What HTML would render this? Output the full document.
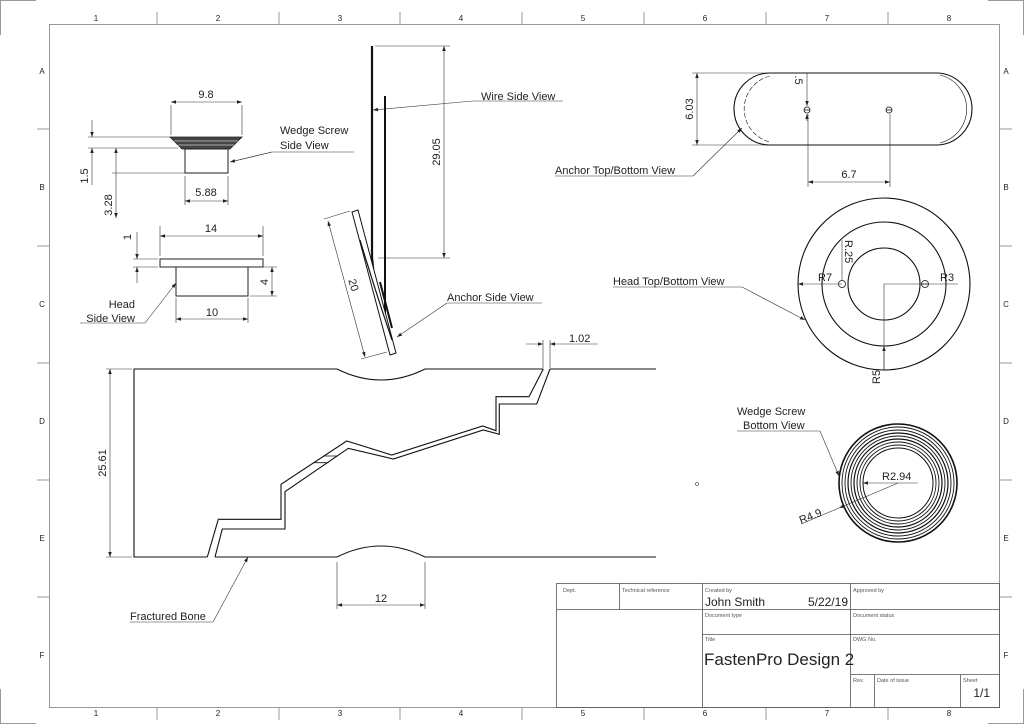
<!DOCTYPE html>
<html><head><meta charset="utf-8"><style>
html,body{margin:0;padding:0;background:#fff}
svg{display:block}
text{font-family:"Liberation Sans",sans-serif;fill:#222}
.t{font-size:11px}
.s{font-size:5.5px;fill:#555}
</style></head><body>
<svg width="1024" height="724" viewBox="0 0 1024 724" xmlns="http://www.w3.org/2000/svg">
<defs>
<marker id="a" viewBox="0 0 10 10" refX="10" refY="5" markerWidth="8" markerHeight="5" orient="auto-start-reverse" markerUnits="userSpaceOnUse"><path d="M0,1.5 L10,5 L0,8.5z" fill="#222"/></marker>
</defs>
<rect width="1024" height="724" fill="#fff"/>
<!-- frame -->
<g stroke="#999" stroke-width="1" fill="none">
<rect x="49.5" y="24.5" width="950" height="683"/>
<path d="M0.5,35 V0.5 H36 M988,0.5 H1023.5 V35 M0.5,689 V723.5 H36 M988,723.5 H1023.5 V689"/>
<path d="M157,12 V24 M279,12 V24 M400,12 V24 M522,12 V24 M644,12 V24 M766,12 V24 M888,12 V24
M157,708 V720 M279,708 V720 M400,708 V720 M522,708 V720 M644,708 V720 M766,708 V720 M888,708 V720
M37,129 H49 M37,246 H49 M37,363 H49 M37,480 H49 M37,597 H49
M1000,129 H1012 M1000,246 H1012 M1000,363 H1012 M1000,480 H1012 M1000,597 H1012"/>
</g>
<g font-size="8" fill="#444" text-anchor="middle">
<text x="96" y="21" font-size="8">1</text><text x="218" y="21" font-size="8">2</text><text x="340" y="21" font-size="8">3</text><text x="461" y="21" font-size="8">4</text><text x="583" y="21" font-size="8">5</text><text x="705" y="21" font-size="8">6</text><text x="827" y="21" font-size="8">7</text><text x="949" y="21" font-size="8">8</text>
<text x="96" y="716" font-size="8">1</text><text x="218" y="716" font-size="8">2</text><text x="340" y="716" font-size="8">3</text><text x="461" y="716" font-size="8">4</text><text x="583" y="716" font-size="8">5</text><text x="705" y="716" font-size="8">6</text><text x="827" y="716" font-size="8">7</text><text x="949" y="716" font-size="8">8</text>
<text x="42" y="74" font-size="8">A</text><text x="42" y="190" font-size="8">B</text><text x="42" y="307" font-size="8">C</text><text x="42" y="424" font-size="8">D</text><text x="42" y="541" font-size="8">E</text><text x="42" y="658" font-size="8">F</text>
<text x="1006" y="74" font-size="8">A</text><text x="1006" y="190" font-size="8">B</text><text x="1006" y="307" font-size="8">C</text><text x="1006" y="424" font-size="8">D</text><text x="1006" y="541" font-size="8">E</text><text x="1006" y="658" font-size="8">F</text>
</g>

<!-- thin dims -->
<g stroke="#333" stroke-width="0.6" fill="none">
<!-- wedge screw side dims -->
<path d="M171,105 V135 M242,105 V135"/>
<path d="M171,102 H242" marker-start="url(#a)" marker-end="url(#a)"/>
<path d="M88,137 H170 M88,148 H178 M112,173 H185"/>
<path d="M92,120 V137" marker-end="url(#a)"/><path d="M92,185 V148" marker-end="url(#a)"/>
<path d="M116,218 V148" marker-end="url(#a)" marker-start="url(#a)"/>
<path d="M185,176 V205 M228,176 V205"/>
<path d="M185,201 H228" marker-start="url(#a)" marker-end="url(#a)"/>
<path d="M272,152 H354 M272,152 L230,162" /><path d="M272,152 L230,162" marker-end="url(#a)"/>
<!-- head side dims -->
<path d="M160,226 V256 M263,226 V256"/>
<path d="M160,236 H263" marker-start="url(#a)" marker-end="url(#a)"/>
<path d="M133,259 H158 M133,267 H158"/>
<path d="M137,232 V259" marker-end="url(#a)"/><path d="M137,283 V267" marker-end="url(#a)"/>
<path d="M250,267 H277 M250,296 H277"/>
<path d="M272,267 V296" marker-start="url(#a)" marker-end="url(#a)"/>
<path d="M176,298 V323 M248,298 V323"/>
<path d="M176,319 H248" marker-start="url(#a)" marker-end="url(#a)"/>
<path d="M80,323 H145"/><path d="M145,323 L176,283" marker-end="url(#a)"/>
<!-- wire dims -->
<path d="M375,46 H450 M378,258 H450"/>
<path d="M444,46 V258" marker-start="url(#a)" marker-end="url(#a)"/>
<path d="M473,101 H563"/><path d="M473,101 L373,110" marker-end="url(#a)"/>
<!-- anchor side dims -->
<path d="M324,219 L350,211 M361,359 L387,352"/>
<path d="M328,221 L365,357" marker-start="url(#a)" marker-end="url(#a)"/>
<path d="M447,303 H542"/><path d="M447,303 L397,337" marker-end="url(#a)"/>
<!-- bone dims -->
<path d="M106,369 H132 M106,557 H132"/>
<path d="M110,369 V557" marker-start="url(#a)" marker-end="url(#a)"/>
<path d="M337,562 V609 M425,562 V609"/>
<path d="M337,605 H425" marker-start="url(#a)" marker-end="url(#a)"/>
<path d="M543,368 V340 M550,368 V340"/>
<path d="M526,344 H543" marker-end="url(#a)"/><path d="M598,344 H550" marker-end="url(#a)"/>
<path d="M130,622 H213"/><path d="M213,622 L248,557" marker-end="url(#a)"/>
<!-- anchor top dims -->
<path d="M692,73 H770 M692,145 H770"/>
<path d="M697,73 V145" marker-start="url(#a)" marker-end="url(#a)"/>
<path d="M807,73 V106" marker-end="url(#a)"/><path d="M807,121 V114" marker-end="url(#a)"/>
<path d="M808,114 V187 M890,114 V187"/>
<path d="M808,182 H890" marker-start="url(#a)" marker-end="url(#a)"/>
<path d="M555,176 H693"/><path d="M693,176 L742,128" marker-end="url(#a)"/>
<!-- head top dims -->
<path d="M842,284 H798" marker-end="url(#a)"/>
<path d="M842,240 V280"/>
<path d="M884,284 H958"/>
<path d="M884,284 V370"/><path d="M884,370 V346" marker-end="url(#a)"/>
<path d="M613,287 H742"/><path d="M742,287 L805,320" marker-end="url(#a)"/>
<!-- wedge bottom dims -->
<path d="M737,431 H820"/><path d="M820,431 L839,476" marker-end="url(#a)"/>
<path d="M918,483 H863" marker-end="url(#a)"/>
<path d="M898,483 L839,508" marker-end="url(#a)"/>
<path d="M839,508 L801,524"/>
</g>

<!-- wedge screw side -->
<polygon points="170,137 242,137 230,149 182,149" fill="#444" stroke="#222" stroke-width="0.8"/>
<path d="M174,141 H238 M178,145 H234" stroke="#ccc" stroke-width="0.8"/>
<rect x="185" y="149" width="43" height="24" fill="#fff" stroke="#222" stroke-width="1"/>
<!-- head side -->
<rect x="160" y="259" width="103" height="8" fill="#fff" stroke="#222" stroke-width="1"/>
<rect x="176" y="267" width="72" height="29" fill="#fff" stroke="#222" stroke-width="1"/>
<!-- wires -->
<path d="M372,46 V257 L376,300" stroke="#111" stroke-width="2.2" fill="none"/>
<path d="M385,96 V332" stroke="#111" stroke-width="2" fill="none"/>
<!-- anchor side -->
<polygon points="352,212 358,210 396,353 390,355" fill="#fff" stroke="#111" stroke-width="1"/>
<path d="M360,240 Q375,290 392,340" stroke="#111" stroke-width="1.2" fill="none"/>
<path d="M380,282 L392,328" stroke="#111" stroke-width="2" fill="none"/>

<!-- bone -->
<g stroke="#111" stroke-width="1.1" fill="none">
<path d="M543.3,369 H425 Q381,391 337,369 H134 V557 H207.3"/>
<path d="M550,369 H656 M215,557 H337 Q381,535 425,557 H656"/>
<polyline points="207.3,557 218.3,519.3 281,519.3 281,484.3 346.7,441 391.7,455 482.7,426 496,430.7 496,396.7 529,396.7 543.3,369"/>
<polyline points="215,557 222.3,529 285,529 285,491.7 348.3,448.3 393.3,459 483.3,430 499.3,434.3 499.3,404 536.7,404 550,369"/>
<path d="M324,456 H338 M314.5,462.7 H328.5" stroke-width="0.8"/>
</g>

<!-- anchor top -->
<g stroke="#111" fill="none">
<rect x="734" y="73" width="238" height="72" rx="36" stroke-width="1.1"/>
<path d="M770,76 A34,34 0 0 0 770,142" stroke-width="0.6" stroke-dasharray="5,2"/>
<path d="M940,75 A35,35 0 0 1 940,143" stroke-width="0.6"/>
<circle cx="807" cy="110" r="3" stroke-width="0.8"/><path d="M804,110 H810" stroke-width="0.8"/>
<circle cx="889" cy="110" r="3" stroke-width="0.8"/><path d="M886,110 H892" stroke-width="0.8"/>
</g>
<!-- head top -->
<g stroke="#111" stroke-width="1.1" fill="none">
<circle cx="884" cy="284" r="86"/><circle cx="884" cy="284" r="62"/><circle cx="884" cy="284" r="36"/>
<circle cx="842" cy="284" r="3.5" stroke-width="0.8"/><circle cx="925" cy="284" r="3.5" stroke-width="0.8"/>
<path d="M922,284 H928" stroke-width="0.8"/>
</g>
<!-- wedge bottom -->
<g stroke="#111" fill="none">
<circle cx="898" cy="483" r="59" stroke-width="1.6"/>
<circle cx="898" cy="483" r="56" stroke-width="0.9"/>
<circle cx="898" cy="483" r="53" stroke-width="0.9"/>
<circle cx="898" cy="483" r="50" stroke-width="1.2"/>
<circle cx="898" cy="483" r="47" stroke-width="0.9"/>
<circle cx="898" cy="483" r="44" stroke-width="1.2"/>
<circle cx="898" cy="483" r="41" stroke-width="0.9"/>
<circle cx="898" cy="483" r="38" stroke-width="0.9"/>
<circle cx="898" cy="483" r="35" stroke-width="1"/>
</g>
<circle cx="697" cy="484" r="1.5" fill="none" stroke="#333" stroke-width="0.6"/>

<!-- labels -->
<g class="t">
<text x="206" y="98" text-anchor="middle">9.8</text>
<text x="280" y="134">Wedge Screw</text><text x="280" y="149">Side View</text>
<text transform="translate(88,176) rotate(-90)" text-anchor="middle">1.5</text>
<text transform="translate(112,205) rotate(-90)" text-anchor="middle">3.28</text>
<text x="206" y="196" text-anchor="middle">5.88</text>
<text x="211" y="232" text-anchor="middle">14</text>
<text transform="translate(131,237) rotate(-90)" text-anchor="middle">1</text>
<text transform="translate(268,282) rotate(-90)" text-anchor="middle">4</text>
<text x="212" y="316" text-anchor="middle">10</text>
<text x="135" y="308" text-anchor="end">Head</text><text x="135" y="322" text-anchor="end">Side View</text>
<text transform="translate(440,152) rotate(-90)" text-anchor="middle">29.05</text>
<text x="481" y="100">Wire Side View</text>
<text transform="translate(350,286) rotate(74)" text-anchor="middle">20</text>
<text x="447" y="301">Anchor Side View</text>
<text x="569" y="342">1.02</text>
<text transform="translate(106,463) rotate(-90)" text-anchor="middle">25.61</text>
<text x="381" y="602" text-anchor="middle">12</text>
<text x="130" y="620">Fractured Bone</text>
<text transform="translate(693,109) rotate(-90)" text-anchor="middle">6.03</text>
<text transform="translate(795,80) rotate(90)" text-anchor="middle">.5</text>
<text x="849" y="178" text-anchor="middle">6.7</text>
<text x="555" y="174">Anchor Top/Bottom View</text>
<text x="613" y="285">Head Top/Bottom View</text>
<text x="818" y="281">R7</text>
<text x="940" y="281">R3</text>
<text transform="translate(845,240) rotate(90)">R.25</text>
<text transform="translate(880,384) rotate(-90)">R5</text>
<text x="737" y="415">Wedge Screw</text><text x="743" y="429">Bottom View</text>
<text x="882" y="480">R2.94</text>
<text transform="translate(801,524) rotate(-22)">R4.9</text>
</g>

<!-- title block -->
<g stroke="#555" stroke-width="0.8" fill="none">
<rect x="556.5" y="583.5" width="443" height="124"/>
<path d="M556.5,609.5 H999.5 M702.5,634.5 H999.5 M619.5,583.5 V609.5 M702.5,583.5 V707.5 M850.5,583.5 V707.5 M850.5,674.5 H999.5 M874.5,674.5 V707.5 M960.5,674.5 V707.5"/>
</g>
<g>
<text x="563" y="592" class="s">Dept.</text>
<text x="622" y="592" class="s">Technical reference</text>
<text x="705" y="592" class="s">Created by</text>
<text x="853" y="592" class="s">Approved by</text>
<text x="705" y="617" class="s">Document type</text>
<text x="853" y="617" class="s">Document status</text>
<text x="705" y="641" class="s">Title</text>
<text x="853" y="641" class="s">DWG No.</text>
<text x="853" y="682" class="s">Rev.</text>
<text x="877" y="682" class="s">Date of issue</text>
<text x="963" y="682" class="s">Sheet</text>
<text x="705" y="606" font-size="12">John Smith</text>
<text x="848" y="606" font-size="12" text-anchor="end">5/22/19</text>
<text x="704" y="665" font-size="17">FastenPro Design 2</text>
<text x="990" y="697" font-size="12" text-anchor="end">1/1</text>
</g>
</svg>
</body></html>
